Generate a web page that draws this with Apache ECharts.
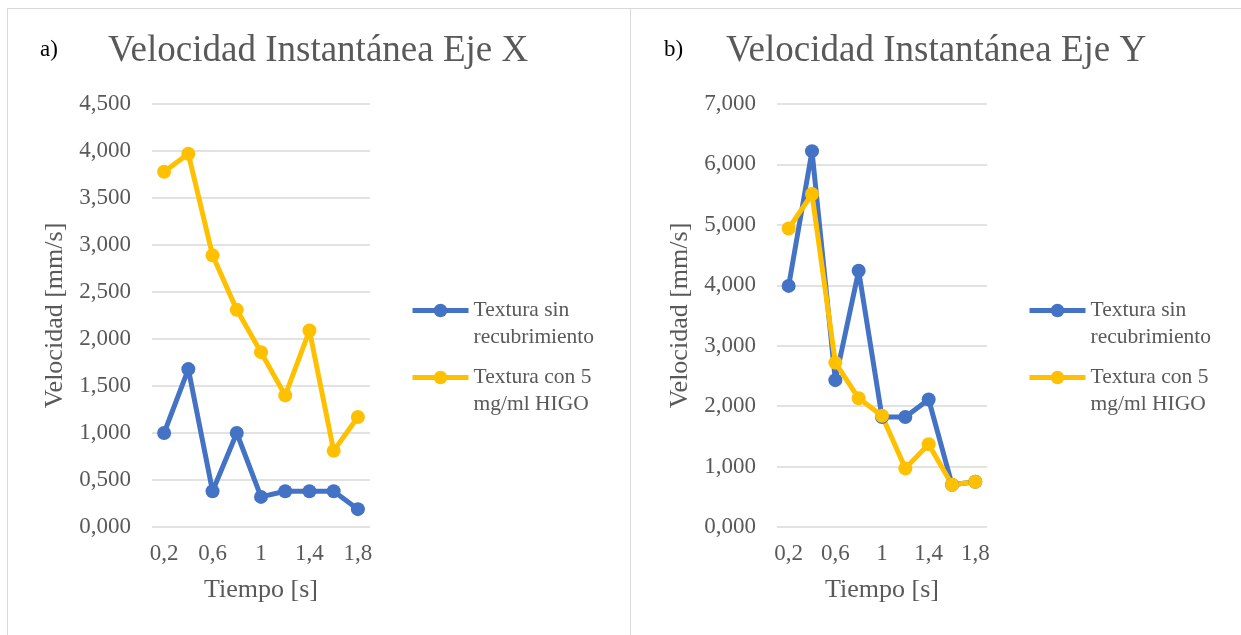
<!DOCTYPE html>
<html>
<head>
<meta charset="utf-8">
<script src="https://cdn.jsdelivr.net/npm/echarts@6/dist/echarts.min.js"></script>
<style>
  html, body { margin: 0; padding: 0; background: #fff; }
  .box { position: absolute; border: 1px solid #d9d9d9; }
  #main { position: absolute; left: 0; top: 0; width: 1241px; height: 635px; }
</style>
</head>
<body>
<div class="box" style="left:7px; top:8px; width:622px; height:640px;"></div>
<div class="box" style="left:630px; top:8px; width:620px; height:640px;"></div>
<div id="main"></div>
<script>
var tiempo = ['0,2', '0,4', '0,6', '0,8', '1', '1,2', '1,4', '1,6', '1,8'];
var nombres = ['Textura sin\nrecubrimiento', 'Textura con 5\nmg/ml HIGO'];

// velocidad eje X [mm/s]
var ejeXSin = [1.00, 1.68, 0.38, 1.00, 0.32, 0.38, 0.38, 0.38, 0.19];
var ejeXHigo = [3.78, 3.97, 2.89, 2.31, 1.86, 1.40, 2.09, 0.81, 1.17];

// velocidad eje Y [mm/s]
var ejeYSin = [3.99, 6.22, 2.43, 4.24, 1.82, 1.82, 2.11, 0.70, 0.75];
var ejeYHigo = [4.94, 5.51, 2.72, 2.13, 1.84, 0.97, 1.37, 0.70, 0.75];

var fuente = 'Liberation Serif';
var gris = '#595959';
var azul = '#4472C4';
var amarillo = '#FFC000';

var myChart = echarts.init(document.getElementById('main'));

function coma(v) {
	return v.toFixed(3).replace('.', ',');
}

function xAxisOf(gridIndex) {
	return {
		type: 'category',
		gridIndex: gridIndex,
		data: tiempo,
		name: 'Tiempo [s]',
		nameLocation: 'middle',
		nameGap: 50,
		nameTextStyle: {fontFamily: fuente, fontSize: 26, color: gris},
		axisLine: {show: false},
		axisTick: {show: false},
		axisLabel: {interval: 1, margin: 15, fontFamily: fuente, fontSize: 23, color: gris}
	};
}

function yAxisOf(gridIndex, max, interval, gap) {
	return {
		type: 'value',
		gridIndex: gridIndex,
		min: 0,
		max: max,
		interval: interval,
		name: 'Velocidad [mm/s]',
		nameLocation: 'middle',
		nameGap: gap,
		nameTextStyle: {fontFamily: fuente, fontSize: 26, color: gris},
		axisLine: {show: false},
		axisTick: {show: false},
		axisLabel: {margin: 21, fontFamily: fuente, fontSize: 23, color: gris, formatter: coma},
		splitLine: {lineStyle: {color: '#d9d9d9', width: 1.5}}
	};
}

function lineOf(name, idx, data, color) {
	return {
		name: name,
		type: 'line',
		xAxisIndex: idx,
		yAxisIndex: idx,
		data: data,
		symbol: 'circle',
		symbolSize: 14,
		lineStyle: {color: color, width: 5},
		itemStyle: {color: color},
		emphasis: {disabled: true}
	};
}

// the empty first line keeps the icon level with the first text line
function legendOf(left) {
	return {
		orient: 'vertical',
		left: left,
		top: 270,
		padding: 0,
		itemGap: -14,
		itemWidth: 56,
		itemHeight: 17,
		data: nombres,
		formatter: function(name) {
			return '\n' + name;
		},
		lineStyle: {width: 5},
		textStyle: {fontFamily: fuente, fontSize: 21.5, color: gris, lineHeight: 27}
	};
}

option = {
	animation: false,
	title: [
		{text: 'a)', left: 35, top: 33, textStyle: {fontFamily: fuente, fontSize: 23, fontWeight: 'normal', color: '#000'}},
		{text: 'Velocidad Instantánea Eje X', left: 103, top: 28, textStyle: {fontFamily: fuente, fontSize: 37, fontWeight: 'normal', color: gris}},
		{text: 'b)', left: 659, top: 33, textStyle: {fontFamily: fuente, fontSize: 23, fontWeight: 'normal', color: '#000'}},
		{text: 'Velocidad Instantánea Eje Y', left: 721, top: 28, textStyle: {fontFamily: fuente, fontSize: 37, fontWeight: 'normal', color: gris}}
	],
	legend: [legendOf(410), legendOf(1027)],
	grid: [
		{left: 152, top: 104, width: 218, height: 423},
		{left: 777, top: 104, width: 210, height: 423}
	],
	xAxis: [xAxisOf(0), xAxisOf(1)],
	yAxis: [yAxisOf(0, 4.5, 0.5, 84), yAxisOf(1, 7, 1, 84)],
	series: [
		lineOf(nombres[0], 0, ejeXSin, azul),
		lineOf(nombres[1], 0, ejeXHigo, amarillo),
		lineOf(nombres[0], 1, ejeYSin, azul),
		lineOf(nombres[1], 1, ejeYHigo, amarillo)
	]
};

myChart.setOption(option);
</script>
</body>
</html>
